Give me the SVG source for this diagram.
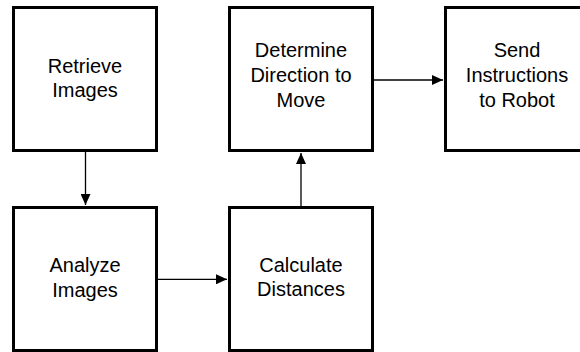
<svg xmlns="http://www.w3.org/2000/svg" width="580" height="352" viewBox="0 0 580 352">
<defs>
<style>
.box{fill:#fff;stroke:#000;stroke-width:3}
.lbl{font-family:"Liberation Sans",Arial,sans-serif;font-size:20px;fill:#000;text-anchor:middle}
.edge{stroke:#000;stroke-width:1.3;fill:none}
</style>
<marker id="ah" viewBox="0 0 11 10" refX="11" refY="5" markerWidth="11" markerHeight="10" markerUnits="userSpaceOnUse" orient="auto">
<path d="M0,0 L11,5 L0,10 Z" fill="#000"/>
</marker>
</defs>
<rect width="580" height="352" fill="#fff"/>
<g id="connectors">
<line class="edge" x1="85.5" y1="152" x2="85.5" y2="205" marker-end="url(#ah)"/>
<line class="edge" x1="158" y1="279.3" x2="227" y2="279.3" marker-end="url(#ah)"/>
<line class="edge" x1="301" y1="206" x2="301" y2="153" marker-end="url(#ah)"/>
<line class="edge" x1="373" y1="80" x2="443" y2="80" marker-end="url(#ah)"/>
</g>
<g id="retrieve">
<rect class="box" x="13.5" y="7.5" width="143" height="143"/>
<text class="lbl" x="85" y="72.5">Retrieve</text>
<text class="lbl" x="85" y="97">Images</text>
</g>
<g id="analyze">
<rect class="box" x="13.5" y="207.5" width="143" height="143"/>
<text class="lbl" x="85" y="272">Analyze</text>
<text class="lbl" x="85" y="296.5">Images</text>
</g>
<g id="calculate">
<rect class="box" x="229.5" y="207.5" width="143" height="143"/>
<text class="lbl" x="301" y="271.5">Calculate</text>
<text class="lbl" x="301" y="296">Distances</text>
</g>
<g id="determine">
<rect class="box" x="229.5" y="7.5" width="143" height="143"/>
<text class="lbl" x="301" y="56.7">Determine</text>
<text class="lbl" x="301" y="81.7">Direction to</text>
<text class="lbl" x="301" y="106.7">Move</text>
</g>
<g id="send">
<rect class="box" x="445.5" y="7.5" width="143" height="143"/>
<text class="lbl" x="517" y="56.7">Send</text>
<text class="lbl" x="517" y="81.7">Instructions</text>
<text class="lbl" x="517" y="106.7">to Robot</text>
</g>
</svg>
